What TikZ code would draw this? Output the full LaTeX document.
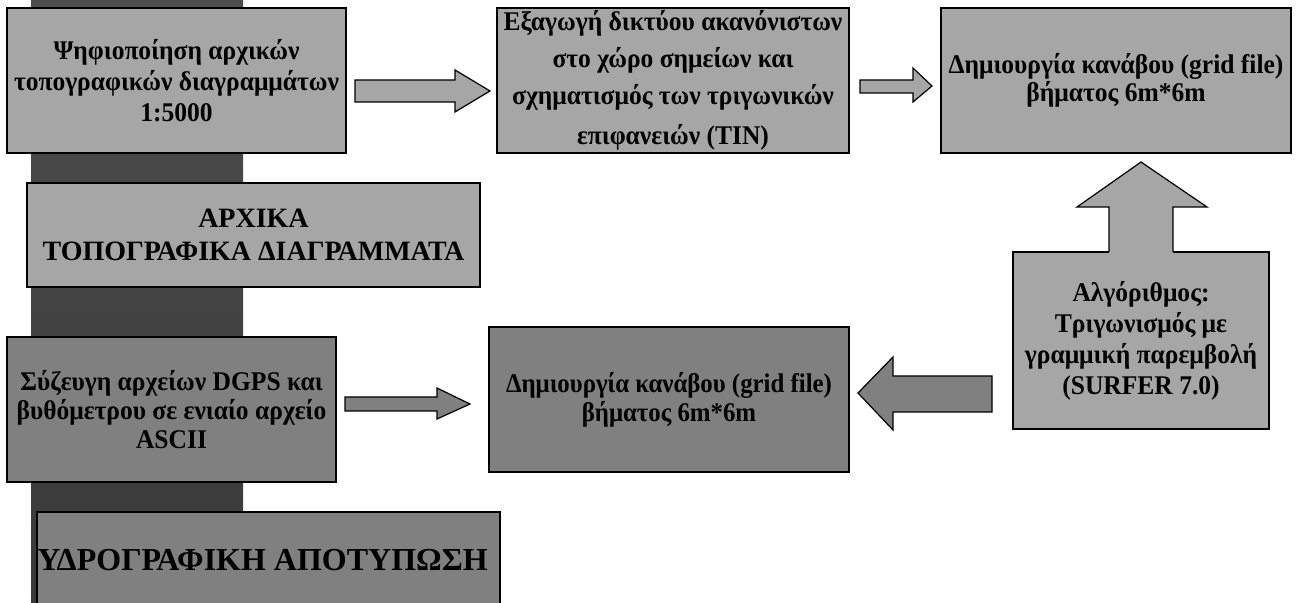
\documentclass[tikz,border=0pt]{standalone}
\usepackage{fontspec}
\setmainfont{Liberation Serif}
\newfontfamily\narrowfont[FakeStretch=0.945]{Liberation Serif}
\newfontfamily\narrowerfont[FakeStretch=0.92]{Liberation Serif}
\definecolor{boxlight}{HTML}{A6A6A6}
\definecolor{boxdark}{HTML}{808080}
\definecolor{bartop}{HTML}{4D4D4D}
\definecolor{barbot}{HTML}{393939}
\tikzset{box/.style = {draw, line width=1pt, align=center, inner sep=0, font=\narrowfont\bfseries\fontsize{13.5}{15}\selectfont}}
\tikzset{light/.style = {box, fill=boxlight}, dark/.style = {box, fill=boxdark}}
\tikzset{blockarrow/.style = {draw, line width=0.6pt, line join=miter}}

\begin{document}
\begin{tikzpicture}[x=0.5pt, y=-0.5pt]
    \useasboundingbox (0,0) rectangle (1297,603);

    % dark band behind the left column
    \shade [top color=bartop, bottom color=barbot] (31,0) rectangle (243,603);

    \node [light, minimum width=169.5pt, minimum height=72.5pt, font=\narrowfont\bfseries\fontsize{13.5}{15.5}\selectfont] (digit) at (176.5,80.5) {Ψηφιοποίηση αρχικών\\τοπογραφικών διαγραμμάτων\\1:5000};
    \node [light, minimum width=176pt, minimum height=72.5pt, font=\narrowfont\bfseries\fontsize{13.5}{18.5}\selectfont] (tin) at (673,80.5) {Εξαγωγή δικτύου ακανόνιστων\\στο χώρο σημείων και\\σχηματισμός των τριγωνικών\\[1.5pt]επιφανειών (TIN)};
    \node [light, minimum width=175pt, minimum height=72.5pt, font=\narrowfont\bfseries\fontsize{13.5}{14}\selectfont] (gridtop) at (1116,80.5) {Δημιουργία κανάβου (grid file)\\βήματος 6m*6m};
    \node [light, minimum width=226.5pt, minimum height=52pt, font=\bfseries\fontsize{14}{16.5}\selectfont] (maps) at (253.5,235) {ΑΡΧΙΚΑ\\ΤΟΠΟΓΡΑΦΙΚΑ ΔΙΑΓΡΑΜΜΑΤΑ};
    \node [light, minimum width=128pt, minimum height=88.5pt, font=\narrowfont\bfseries\fontsize{13.5}{15.5}\selectfont] (algo) at (1141,340.5) {Αλγόριθμος:\\Τριγωνισμός με\\γραμμική παρεμβολή\\(SURFER 7.0)};

    \node [dark, minimum width=164.5pt, minimum height=72.5pt, font=\narrowfont\bfseries\fontsize{13.5}{14.5}\selectfont] (merge) at (171.5,409.5) {Σύζευγη αρχείων DGPS και\\βυθόμετρου σε ενιαίο αρχείο\\ASCII};
    \node [dark, minimum width=180pt, minimum height=72.5pt, font=\narrowerfont\bfseries\fontsize{13.5}{14.5}\selectfont] (gridbot) at (669,399.5) {Δημιουργία κανάβου (grid file)\\βήματος 6m*6m};
    \node [dark, minimum width=231.5pt, minimum height=48pt, font=\bfseries\fontsize{16}{18}\selectfont] (hydro) at (268.5,560) {ΥΔΡΟΓΡΑΦΙΚΗ ΑΠΟΤΥΠΩΣΗ\hspace*{6pt}};

    % block arrows
    \draw [blockarrow, fill=boxlight] (355,80) -- (455,80) -- (455,70) -- (490,91) -- (455,112) -- (455,102) -- (355,102) -- cycle;
    \draw [blockarrow, fill=boxlight] (860,80) -- (913,80) -- (913,68) -- (932,86) -- (913,102) -- (913,93) -- (860,93) -- cycle;
    \fill [boxlight] (1109,255) -- (1109,207) -- (1077,207) -- (1141,162) -- (1207,207) -- (1173,207) -- (1173,255) -- cycle;
    \draw [blockarrow] (1109,252) -- (1109,207) -- (1077,207) -- (1141,162) -- (1207,207) -- (1173,207) -- (1173,252);
    \draw [blockarrow, fill=boxdark] (345,397) -- (437,397) -- (437,388) -- (470,404) -- (437,419) -- (437,411) -- (345,411) -- cycle;
    \draw [blockarrow, fill=boxdark] (992,376) -- (893,376) -- (893,357) -- (858,393) -- (893,430) -- (893,412) -- (992,412) -- cycle;

\end{tikzpicture}
\end{document}
